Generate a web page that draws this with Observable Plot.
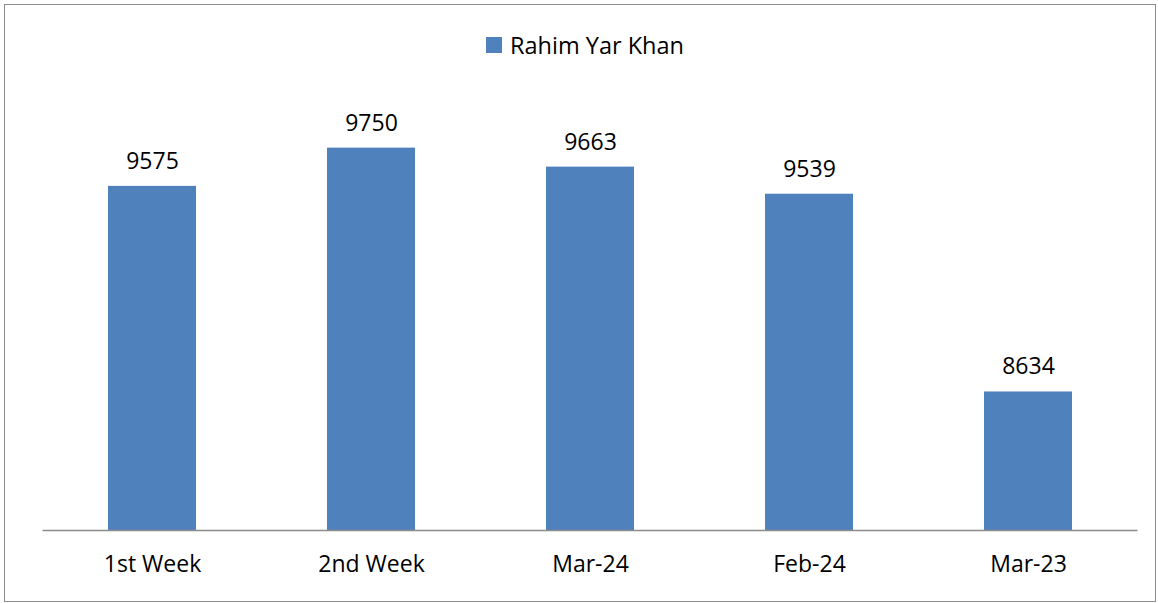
<!DOCTYPE html>
<html><head><meta charset="utf-8">
<script src="https://cdn.jsdelivr.net/npm/d3@7"></script>
<script src="https://cdn.jsdelivr.net/npm/@observablehq/plot@0.6"></script>
<style>
body{margin:0;background:#fff;font-family:"Open Sans",sans-serif;}
#wrap{position:relative;width:1158px;height:603px;overflow:hidden;background:#fff}
#border{position:absolute;left:4px;top:4px;width:1152px;height:598px;box-sizing:border-box;border:1.5px solid #8c8c8c;pointer-events:none}
#legend{position:absolute;top:29px;left:486px;height:32px;display:flex;align-items:center;font-size:23.5px;color:#000;white-space:nowrap}
#legend .sw{width:16px;height:16px;background:#4f81bd;margin-right:8px}
#chart{position:absolute;left:0;top:0}
</style></head>
<body>
<div id="wrap">
  <div id="chart"></div>
  <div id="legend"><span class="sw"></span><span>Rahim Yar Khan</span></div>
  <div id="border"></div>
</div>
<script>
const categories = ["1st Week", "2nd Week", "Mar-24", "Feb-24", "Mar-23"];
const values = [9575, 9750, 9663, 9539, 8634];
const seriesName = "Rahim Yar Khan";
const yMin = 8000, yMax = 10000;

const data = categories.map((c, i) => ({category: c, value: values[i], series: seriesName}));

const chart = Plot.plot({
  width: 1158,
  height: 603,
  marginLeft: 42.5,
  marginRight: 20.5,
  marginTop: 93,
  marginBottom: 73,
  style: {fontFamily: "'Open Sans', sans-serif", fontSize: "23px", color: "#000", background: "transparent"},
  x: {domain: categories, paddingInner: 0.6, paddingOuter: 0.3, label: null},
  y: {domain: [yMin, yMax], axis: null, clamp: true},
  marks: [
    Plot.barY(data, {x: "category", y1: yMin, y2: "value", fill: "#4f81bd"}),
    Plot.ruleY([yMin], {stroke: "#8c8c8c", strokeWidth: 1.5}),
    Plot.text(data, {x: "category", y: "value", text: d => String(d.value), dy: -25, lineAnchor: "middle", fontSize: 23, fill: "#000"}),
    Plot.axisX({tickSize: 0, tickPadding: 25, fontSize: 23, label: null, color: "#000"})
  ]
});
document.getElementById("chart").appendChild(chart);
</script>
</body></html>
